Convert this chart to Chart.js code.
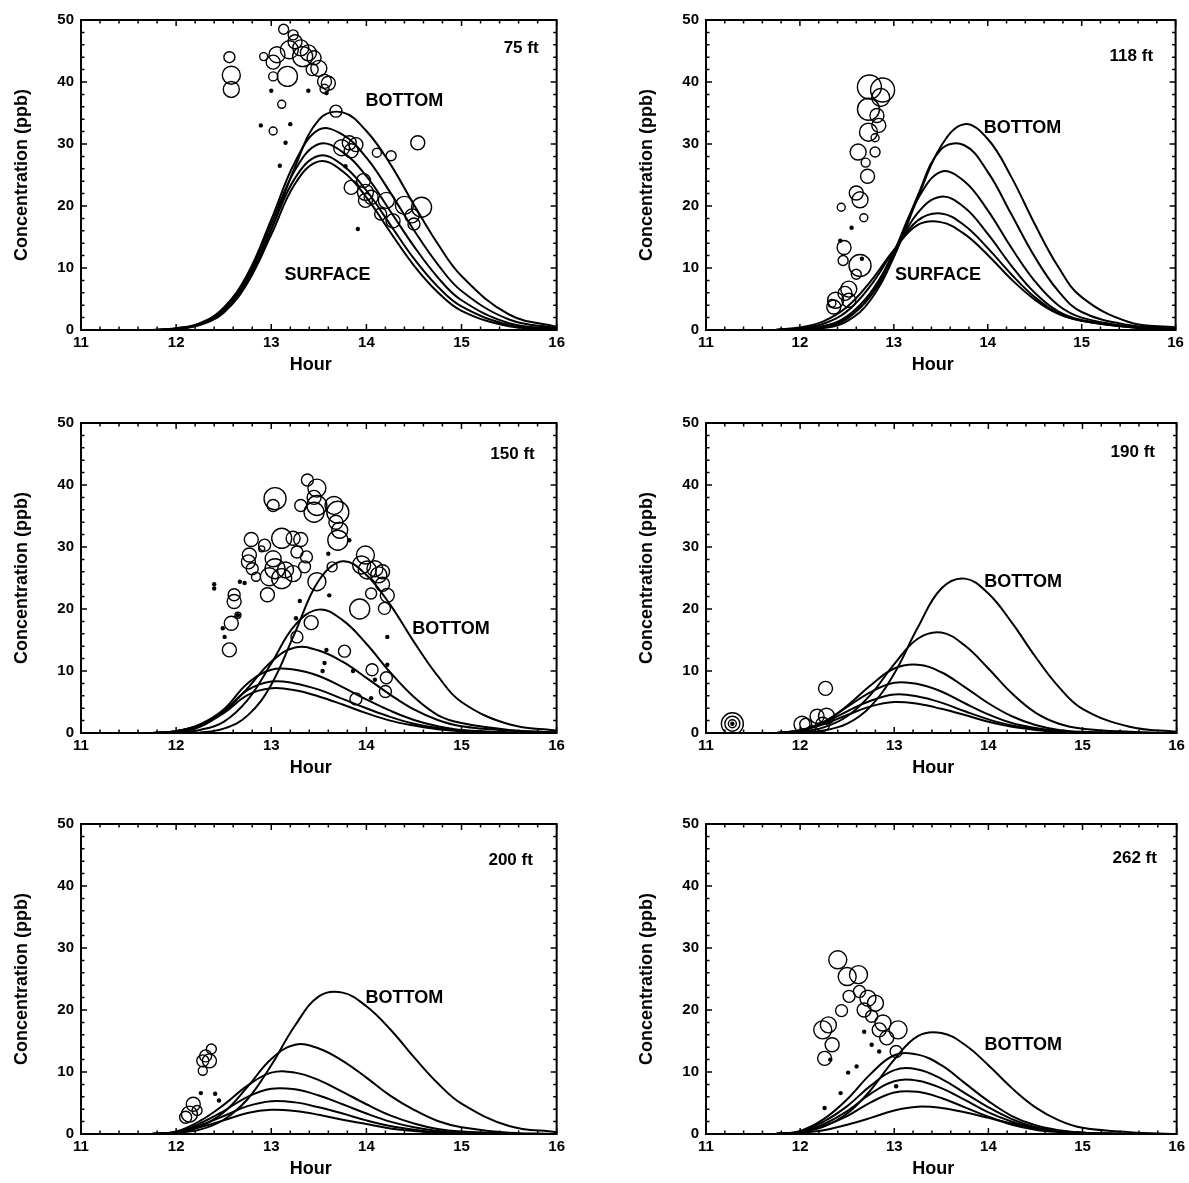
<!DOCTYPE html>
<html>
<head>
<meta charset="utf-8">
<script src="https://cdn.jsdelivr.net/npm/chart.js@4.4.0/dist/chart.umd.min.js"></script>
<style>
    body { margin: 0; background: #fff; }
    #page { position: relative; width: 1189px; height: 1183px; background: #fff; }
    #page canvas { position: absolute; }
</style>
</head>
<body>
<div id="page"></div>
<script>
// Model curves, all panels share the same hour grid
const hours = [11.75, 12, 12.25, 12.5, 12.75, 13, 13.25, 13.5, 13.75, 14, 14.25, 14.5, 14.75, 15, 15.5, 16];

// --- 75 ft ---
const curves75 = [
    [0.0, 0.2, 0.9, 3.1, 7.9, 16.2, 26.3, 33.9, 35.1, 32.1, 26.8, 20.2, 13.9, 8.7, 2.5, 0.5],
    [0.0, 0.3, 1.1, 3.6, 9.0, 17.8, 27.1, 32.3, 31.5, 27.8, 22.2, 16.1, 10.6, 6.3, 1.7, 0.3],
    [0.0, 0.2, 1.0, 3.4, 8.7, 17.1, 25.8, 30.0, 28.7, 24.8, 19.2, 13.5, 8.5, 4.8, 1.1, 0.2],
    [0.0, 0.2, 0.9, 3.2, 8.3, 16.3, 24.5, 28.1, 26.6, 22.5, 17.0, 11.5, 7.0, 3.8, 0.8, 0.1],
    [0.0, 0.2, 0.8, 2.8, 7.6, 15.4, 23.6, 27.2, 25.6, 21.4, 15.8, 10.4, 6.1, 3.1, 0.6, 0.1]
];
const ring75Hour = [12.56, 12.58, 12.58, 12.92, 13.02, 13.02, 13.06, 13.13, 13.17, 13.11, 13.02, 13.23, 13.25, 13.19, 13.31, 13.39, 13.45, 13.33, 13.43, 13.50, 13.56, 13.60, 13.56, 13.68, 13.74, 13.82, 13.84, 13.89, 13.84, 13.97, 13.99, 13.99, 14.05, 14.11, 14.21, 14.15, 14.26, 14.28, 14.40, 14.48, 14.50, 14.54, 14.58];
const ring75Conc = [44.0, 41.1, 38.8, 44.1, 43.2, 40.9, 44.4, 48.5, 40.9, 36.4, 32.1, 47.6, 46.5, 45.2, 45.5, 44.7, 43.9, 44.1, 42.0, 42.2, 40.1, 39.8, 38.9, 35.3, 29.4, 30.2, 28.9, 29.9, 23.0, 24.1, 22.2, 20.9, 21.4, 28.6, 20.9, 18.7, 28.1, 17.6, 20.1, 18.4, 17.1, 30.2, 19.8];
const ring75Size = [5.5, 9, 8, 4, 7, 4.5, 8, 5, 10, 4, 4, 5, 7, 9, 8, 8, 7, 10, 6, 8, 7, 7, 4.5, 6, 8, 7, 7, 7, 7, 7, 8, 7, 7, 4.5, 8, 6, 5, 7, 9, 7, 6, 7, 10];
const dot75Hour = [13.0, 13.39, 12.89, 13.2, 13.09, 13.91, 13.58, 13.78, 13.15];
const dot75Conc = [38.6, 38.6, 33.0, 33.2, 26.5, 16.3, 38.2, 26.4, 30.2];

// --- 118 ft ---
const curves118 = [
    [0.0, 0.1, 0.6, 1.9, 5.4, 11.9, 21.1, 29.6, 33.2, 30.8, 24.7, 17.1, 10.2, 5.3, 1.3, 0.4],
    [0.0, 0.1, 0.3, 1.4, 4.8, 11.8, 21.5, 29.1, 29.8, 25.5, 18.7, 11.8, 6.3, 2.9, 0.8, 0.2],
    [0.0, 0.1, 0.4, 1.8, 5.6, 12.6, 21.0, 25.5, 24.0, 19.3, 13.3, 7.9, 4.0, 2.0, 0.6, 0.1],
    [0.0, 0.1, 0.6, 2.2, 6.0, 12.3, 18.8, 21.5, 19.8, 15.5, 10.4, 6.0, 3.0, 1.6, 0.5, 0.1],
    [0.0, 0.2, 1.0, 3.0, 7.1, 12.8, 17.6, 18.8, 16.9, 13.2, 9.0, 5.3, 2.7, 1.5, 0.5, 0.1],
    [0.1, 0.4, 1.4, 3.7, 7.8, 12.9, 16.9, 17.4, 15.5, 12.1, 8.2, 4.9, 2.6, 1.5, 0.5, 0.1]
];
const ring118Hour = [12.74, 12.88, 12.86, 12.73, 12.82, 12.84, 12.73, 12.80, 12.62, 12.80, 12.70, 12.72, 12.60, 12.64, 12.44, 12.68, 12.47, 12.46, 12.64, 12.60, 12.52, 12.48, 12.52, 12.38, 12.36, 12.34];
const ring118Conc = [39.2, 38.7, 37.5, 35.6, 34.6, 33.0, 31.9, 31.0, 28.7, 28.7, 27.0, 24.8, 22.1, 21.0, 19.8, 18.1, 13.3, 11.2, 10.4, 9.0, 6.6, 5.9, 4.8, 4.8, 3.7, 4.3];
const ring118Size = [12, 12, 9, 11, 7, 7, 9, 4, 8, 5, 4.5, 7, 7, 8, 4, 4, 7, 5, 11, 5, 8, 7, 7, 8, 7, 4];
const dot118Hour = [12.55, 12.66, 12.43];
const dot118Conc = [16.5, 11.5, 14.4];

// --- 150 ft ---
const curves150 = [
    [0.0, 0.0, 0.1, 0.7, 2.8, 7.8, 16.2, 24.6, 27.7, 25.5, 20.7, 14.7, 9.2, 5.0, 1.4, 0.4],
    [0.0, 0.1, 0.5, 1.8, 5.3, 11.2, 17.4, 19.9, 18.2, 14.4, 9.8, 5.8, 2.9, 1.6, 0.5, 0.1],
    [0.0, 0.2, 1.0, 3.4, 7.2, 11.5, 13.8, 13.3, 11.5, 8.9, 6.2, 3.8, 2.1, 1.1, 0.4, 0.1],
    [0.0, 0.3, 1.4, 3.8, 8.0, 10.2, 10.2, 9.2, 7.4, 5.4, 3.6, 2.1, 1.1, 0.5, 0.1, 0.0],
    [0.0, 0.3, 1.3, 3.5, 6.9, 8.3, 8.0, 7.0, 5.5, 4.0, 2.6, 1.5, 0.8, 0.4, 0.1, 0.0],
    [0.0, 0.3, 1.2, 3.2, 6.1, 7.2, 6.9, 5.9, 4.6, 3.2, 2.0, 1.2, 0.6, 0.3, 0.0, 0.0]
];
const ring150Hour = [12.56, 12.58, 12.61, 12.61, 12.65, 12.79, 12.77, 12.76, 12.80, 12.84, 12.93, 12.90, 12.96, 12.98, 13.04, 13.02, 13.11, 13.11, 13.15, 13.23, 13.23, 13.31, 13.27, 13.37, 13.35, 13.04, 13.02, 13.38, 13.48, 13.45, 13.31, 13.48, 13.45, 13.66, 13.70, 13.68, 13.72, 13.70, 13.48, 13.64, 13.93, 13.99, 13.95, 14.01, 14.09, 14.13, 14.17, 14.22, 14.17, 14.05, 14.19, 13.42, 13.27, 13.77, 14.06, 14.21, 14.20, 13.89];
const ring150Conc = [13.4, 17.7, 21.2, 22.3, 19.0, 31.2, 28.7, 27.6, 26.5, 25.2, 30.3, 29.7, 22.3, 25.2, 26.5, 28.1, 31.4, 24.9, 26.3, 25.7, 31.4, 31.2, 29.2, 28.4, 26.8, 37.8, 36.7, 40.8, 39.5, 38.0, 36.7, 36.7, 35.6, 36.7, 35.6, 34.0, 32.7, 31.1, 24.4, 26.8, 20.0, 28.7, 27.1, 26.3, 26.5, 25.5, 26.0, 22.2, 24.0, 22.5, 20.1, 17.8, 15.5, 13.2, 10.2, 8.9, 6.7, 5.5];
const ring150Size = [7, 7, 7, 6, 3, 7, 7, 7, 6, 4.5, 6, 3, 7, 9, 10, 8, 10, 10, 8, 8, 7, 7, 6, 6, 6, 11, 6, 6, 9, 7, 6, 10, 10, 9, 11, 7, 8, 10, 9, 5, 10, 9, 9, 9, 8, 8, 7, 7, 7, 5.5, 6, 7, 6, 6, 6, 6, 6, 6];
const dot150Hour = [12.40, 12.40, 12.51, 12.49, 12.67, 12.72, 13.60, 13.61, 13.30, 13.26, 13.58, 13.56, 13.54, 13.82, 13.86, 14.22, 14.22, 14.05, 14.09, 12.65];
const dot150Conc = [23.3, 24.0, 15.5, 16.9, 24.4, 24.2, 28.9, 22.2, 21.3, 18.5, 13.4, 11.3, 10.0, 31.1, 10.0, 15.5, 11.0, 5.6, 8.6, 19.0];

// --- 190 ft ---
const curves190 = [
    [0.0, 0.1, 0.4, 1.5, 4.3, 9.6, 17.0, 23.3, 24.9, 22.5, 17.8, 12.3, 7.4, 3.9, 1.0, 0.2],
    [0.0, 0.2, 0.9, 2.7, 6.2, 11.1, 15.2, 16.2, 14.1, 10.4, 6.4, 3.3, 1.5, 0.7, 0.2, 0.0],
    [0.0, 0.4, 1.7, 4.4, 7.7, 10.4, 11.0, 9.8, 7.4, 4.8, 2.7, 1.3, 0.5, 0.2, 0.0, 0.0],
    [0.0, 0.4, 1.8, 4.2, 6.6, 8.1, 7.9, 6.7, 4.8, 3.0, 1.6, 0.8, 0.3, 0.1, 0.0, 0.0],
    [0.0, 0.4, 1.6, 3.5, 5.2, 6.2, 5.9, 4.9, 3.5, 2.2, 1.2, 0.6, 0.2, 0.1, 0.0, 0.0],
    [0.0, 0.4, 1.4, 2.9, 4.3, 5.0, 4.7, 3.9, 2.9, 1.8, 1.0, 0.5, 0.2, 0.1, 0.0, 0.0]
];
const ring190Hour = [11.28, 11.28, 11.28, 12.27, 12.02, 12.06, 12.18, 12.28, 12.24, 12.12];
const ring190Conc = [1.5, 1.5, 1.5, 7.2, 1.4, 1.4, 2.7, 2.7, 1.4, 0.5];
const ring190Size = [11, 7.5, 4, 7, 8, 6, 7, 8, 7, 4];
const dot190Hour = [11.28];
const dot190Conc = [1.5];

// --- 200 ft ---
const curves200 = [
    [0.0, 0.2, 0.7, 2.3, 5.6, 11.1, 17.5, 22.2, 22.8, 20.6, 16.9, 12.4, 8.2, 4.9, 1.3, 0.3],
    [0.1, 0.3, 1.2, 3.5, 7.6, 12.1, 14.4, 13.8, 11.8, 9.1, 6.2, 3.9, 2.1, 1.1, 0.2, 0.0],
    [0.0, 0.4, 2.1, 4.7, 7.8, 9.9, 9.9, 8.7, 6.8, 4.8, 3.0, 1.7, 0.8, 0.4, 0.1, 0.0],
    [0.0, 0.3, 1.7, 3.7, 6.0, 7.3, 7.2, 6.2, 4.8, 3.3, 2.0, 1.1, 0.5, 0.2, 0.0, 0.0],
    [0.0, 0.3, 1.4, 2.9, 4.5, 5.3, 5.1, 4.3, 3.3, 2.2, 1.3, 0.7, 0.3, 0.1, 0.0, 0.0],
    [0.0, 0.2, 1.1, 2.2, 3.4, 3.9, 3.7, 3.1, 2.3, 1.6, 0.9, 0.5, 0.2, 0.1, 0.0, 0.0]
];
const ring200Hour = [12.37, 12.31, 12.28, 12.35, 12.28, 12.18, 12.14, 12.22, 12.10];
const ring200Conc = [13.7, 12.6, 11.8, 11.8, 10.2, 4.8, 3.2, 3.8, 2.7];
const ring200Size = [5, 6, 6, 7, 4.5, 7, 8, 5, 6];
const dot200Hour = [12.26, 12.41, 12.45];
const dot200Conc = [6.6, 6.5, 5.4];

// --- 262 ft ---
const curves262 = [
    [0.1, 0.3, 1.2, 3.3, 7.1, 12.0, 15.8, 16.3, 14.4, 11.1, 7.4, 4.3, 2.2, 1.0, 0.3, 0.0],
    [0.0, 0.5, 2.4, 5.6, 9.7, 12.7, 12.8, 11.1, 8.2, 5.3, 2.9, 1.4, 0.6, 0.2, 0.0, 0.0],
    [0.0, 0.4, 2.0, 4.5, 7.8, 10.3, 10.4, 8.9, 6.6, 4.3, 2.4, 1.1, 0.5, 0.2, 0.0, 0.0],
    [0.0, 0.3, 1.6, 3.7, 6.5, 8.5, 8.6, 7.4, 5.5, 3.5, 2.0, 0.9, 0.4, 0.2, 0.0, 0.0],
    [0.0, 0.3, 1.3, 2.9, 5.1, 6.7, 6.8, 5.8, 4.3, 2.8, 1.5, 0.7, 0.3, 0.1, 0.0, 0.0],
    [0.1, 0.2, 0.6, 1.5, 2.6, 3.8, 4.4, 4.2, 3.5, 2.6, 1.7, 1.0, 0.5, 0.2, 0.0, 0.0]
];
const ring262Hour = [12.40, 12.50, 12.62, 12.52, 12.63, 12.72, 12.80, 12.44, 12.68, 12.76, 12.88, 13.04, 12.84, 12.92, 13.02, 12.24, 12.30, 12.34, 12.26];
const ring262Conc = [28.1, 25.4, 25.7, 22.2, 23.0, 21.9, 21.1, 19.9, 20.0, 19.0, 17.9, 16.8, 16.8, 15.5, 13.3, 16.8, 17.6, 14.4, 12.2];
const ring262Size = [9, 9, 9, 6, 6, 8, 8, 6, 7, 6, 8, 9, 7, 7, 6, 9, 8, 7, 7];
const dot262Hour = [12.26, 12.43, 12.51, 12.60, 12.68, 12.76, 12.84, 13.02, 12.32];
const dot262Conc = [4.2, 6.6, 9.9, 10.9, 16.5, 14.4, 13.3, 7.7, 12.0];

const FONT = "'Liberation Sans', Arial, Helvetica, sans-serif";

// Panel placement (plot area in page pixels) and text annotations
const panels = [
    { left: 81, top: 18, width: 476, curves: curves75, rh: ring75Hour, rc: ring75Conc, rs: ring75Size, dh: dot75Hour, dc: dot75Conc,
      tag: ['75 ft', 15.81, 45.4], notes: [['BOTTOM', 14.40, 36.9], ['SURFACE', 13.59, 8.8]] },
    { left: 706, top: 18, width: 471, curves: curves118, rh: ring118Hour, rc: ring118Conc, rs: ring118Size, dh: dot118Hour, dc: dot118Conc,
      tag: ['118 ft', 15.76, 44.1], notes: [['BOTTOM', 14.37, 32.6], ['SURFACE', 13.47, 8.9]] },
    { left: 81, top: 421, width: 476, curves: curves150, rh: ring150Hour, rc: ring150Conc, rs: ring150Size, dh: dot150Hour, dc: dot150Conc,
      tag: ['150 ft', 15.77, 45.0], notes: [['BOTTOM', 14.89, 16.7]] },
    { left: 706, top: 421, width: 471, curves: curves190, rh: ring190Hour, rc: ring190Conc, rs: ring190Size, dh: dot190Hour, dc: dot190Conc,
      tag: ['190 ft', 15.77, 45.3], notes: [['BOTTOM', 14.37, 24.4]] },
    { left: 81, top: 822, width: 476, curves: curves200, rh: ring200Hour, rc: ring200Conc, rs: ring200Size, dh: dot200Hour, dc: dot200Conc,
      tag: ['200 ft', 15.75, 44.2], notes: [['BOTTOM', 14.40, 22.0]] },
    { left: 706, top: 822, width: 471, curves: curves262, rh: ring262Hour, rc: ring262Conc, rs: ring262Size, dh: dot262Hour, dc: dot262Conc,
      tag: ['262 ft', 15.79, 44.4], notes: [['BOTTOM', 14.37, 14.4]] }
];

const PLOT_H = 312, PAD_L = 75, PAD_T = 14, PAD_R = 12, PAD_B = 46;

// frame, inward ticks, axis titles and text labels
const framePlugin = {
    id: 'frame',
    afterDraw(chart, args, opts) {
        const ctx = chart.ctx, a = chart.chartArea;
        const xs = chart.scales.x, ys = chart.scales.y;
        ctx.save();
        ctx.strokeStyle = '#000';
        ctx.lineWidth = 1.5;
        ctx.beginPath();
        for (let k = 0; k <= 25; k++) {
            const px = xs.getPixelForValue(11 + k * 0.2);
            const len = k % 5 === 0 ? 6 : 3.5;
            ctx.moveTo(px, a.bottom); ctx.lineTo(px, a.bottom - len);
            ctx.moveTo(px, a.top); ctx.lineTo(px, a.top + len);
        }
        for (let k = 0; k <= 25; k++) {
            const py = ys.getPixelForValue(k * 2);
            const len = k % 5 === 0 ? 6 : 3.5;
            ctx.moveTo(a.left, py); ctx.lineTo(a.left + len, py);
            ctx.moveTo(a.right, py); ctx.lineTo(a.right - len, py);
        }
        ctx.stroke();
        ctx.lineWidth = 2;
        ctx.strokeRect(a.left, a.top, a.right - a.left, a.bottom - a.top);

        ctx.fillStyle = '#000';
        ctx.font = 'bold 18px ' + FONT;
        ctx.textAlign = 'center';
        ctx.textBaseline = 'middle';
        ctx.fillText('Hour', (a.left + a.right) / 2 - 8, a.bottom + 35);
        ctx.save();
        ctx.translate(a.left - 59, (a.top + a.bottom) / 2);
        ctx.rotate(-Math.PI / 2);
        ctx.fillText('Concentration (ppb)', 0, 0);
        ctx.restore();

        opts.notes.forEach(n => {
            ctx.fillText(n[0], xs.getPixelForValue(n[1]), ys.getPixelForValue(n[2]));
        });
        ctx.font = 'bold 17px ' + FONT;
        ctx.textAlign = 'right';
        ctx.fillText(opts.tag[0], xs.getPixelForValue(opts.tag[1]), ys.getPixelForValue(opts.tag[2]));
        ctx.restore();
    }
};

const page = document.getElementById('page');

panels.forEach(function(p) {
    const cv = document.createElement('canvas');
    cv.width = p.width + PAD_L + PAD_R;
    cv.height = PLOT_H + PAD_T + PAD_B;
    cv.style.left = (p.left - PAD_L) + 'px';
    cv.style.top = (p.top - PAD_T) + 'px';
    page.appendChild(cv);

    const datasets = [];
    p.curves.forEach(function(c) {
        datasets.push({
            type: 'line',
            data: hours.map((h, i) => ({ x: h, y: c[i] })),
            borderColor: '#000',
            borderWidth: 2,
            pointRadius: 0,
            tension: 0.4,
            fill: false
        });
    });
    datasets.push({
        type: 'bubble',
        data: p.rh.map((h, i) => ({ x: h, y: p.rc[i], r: p.rs[i] })),
        borderColor: '#000',
        borderWidth: 1.4,
        backgroundColor: 'rgba(0,0,0,0)'
    });
    datasets.push({
        type: 'line',
        data: p.dh.map((h, i) => ({ x: h, y: p.dc[i] })),
        showLine: false,
        pointRadius: 2.2,
        pointBorderWidth: 0,
        pointBackgroundColor: '#000'
    });

    new Chart(cv.getContext('2d'), {
        type: 'line',
        data: { datasets: datasets },
        options: {
            responsive: false,
            animation: false,
            events: [],
            layout: { padding: { top: PAD_T, right: PAD_R, left: 0, bottom: 0 } },
            plugins: {
                legend: { display: false },
                tooltip: { enabled: false },
                frame: { tag: p.tag, notes: p.notes }
            },
            scales: {
                x: {
                    type: 'linear', min: 11, max: 16,
                    grid: { display: false, drawTicks: false },
                    border: { display: false },
                    ticks: { stepSize: 1, autoSkip: false, maxRotation: 0, color: '#000', padding: 4,
                             font: { family: FONT, size: 15, weight: 'bold' } },
                    afterFit: function(s) { s.height = PAD_B; }
                },
                y: {
                    type: 'linear', min: 0, max: 50,
                    grid: { display: false, drawTicks: false },
                    border: { display: false },
                    ticks: { stepSize: 10, color: '#000', padding: 7,
                             font: { family: FONT, size: 15, weight: 'bold' } },
                    afterFit: function(s) { s.width = PAD_L; }
                }
            }
        },
        plugins: [framePlugin]
    });
});
</script>
</body>
</html>
